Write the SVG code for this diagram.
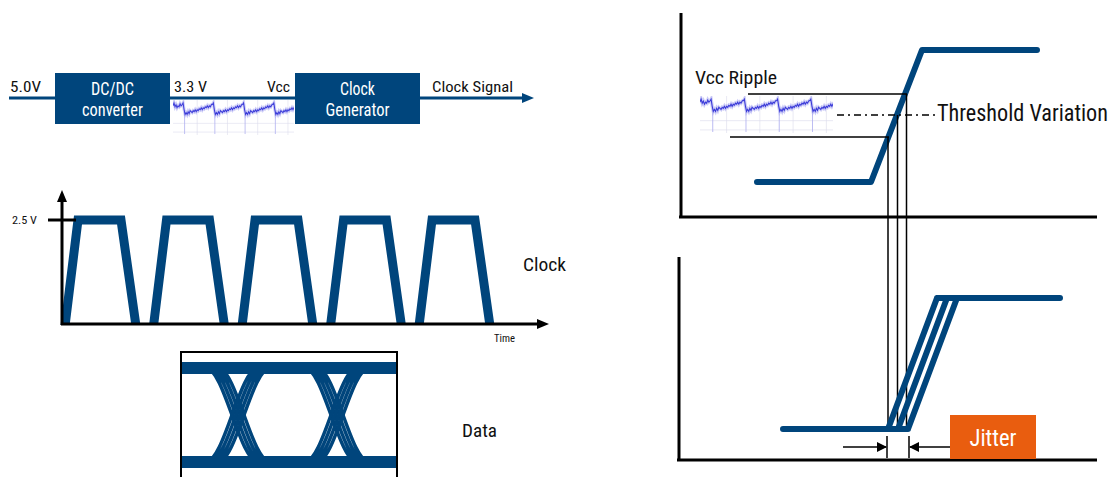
<svg xmlns="http://www.w3.org/2000/svg" xmlns:xlink="http://www.w3.org/1999/xlink" width="1118" height="477" viewBox="0 0 1118 477">
<style>
.box{fill:#00457c}
.t{font-family:"Liberation Sans Narrow","Roboto Condensed","Liberation Sans",Arial,sans-serif;fill:#111}
.w{fill:#fff}
.wire{stroke:#00457c;stroke-width:3;fill:none}
.axis{stroke:#000;stroke-width:3;fill:none}
.thin{stroke:#000;stroke-width:1.5;fill:none}
.sig{stroke:#00457c;stroke-width:6;fill:none;stroke-linecap:round;stroke-linejoin:round}
.pulse{stroke:#00457c;stroke-width:9;fill:none;stroke-linejoin:miter}
.eye{stroke:#00457c;stroke-width:3.5;fill:none}
.band{stroke:#00457c;stroke-width:12;fill:none}
.rd{stroke:#3a3ad8;stroke-width:1;fill:none}
.rl{stroke:#a4a4f2;stroke-width:3;fill:none;opacity:0.55}
.rs{stroke:#b0b0f0;stroke-width:0.8;fill:none}
.grid{stroke:#dcdcec;stroke-width:0.6}
</style>
<defs>
<marker id="aBlue" markerUnits="userSpaceOnUse" markerWidth="12" markerHeight="10" refX="2" refY="5" orient="auto"><path d="M0,0 L12,5 L0,10 z" fill="#00457c"/></marker>
<marker id="aBlack" markerUnits="userSpaceOnUse" markerWidth="12" markerHeight="10" refX="2" refY="5" orient="auto"><path d="M0,0 L12,5 L0,10 z" fill="#000"/></marker>
<marker id="aSmall" markerUnits="userSpaceOnUse" markerWidth="10" markerHeight="10" refX="9" refY="5" orient="auto"><path d="M0,0 L10,5 L0,10 z" fill="#000"/></marker>
<path id="rp" d="M-1,5 L0,3 L1,10 L2,15 L3,13 L4,15 L5,12 L6,14 L7,11 L8,12 L9,13 L10,11 L11,12 L12,10 L13,12 L14,10 L15,11 L16,9 L17,10 L18,8 L19,10 L20,8 L21,9 L22,7 L23,8 L24,6 L25,8 L26,6 L27,7 L28,5 L29,4"/>
<symbol id="ripple" viewBox="0 0 120 36" preserveAspectRatio="none">
<g class="grid"><line x1="24" y1="0" x2="24" y2="36"/><line x1="54" y1="0" x2="54" y2="36"/><line x1="84" y1="0" x2="84" y2="36"/><line x1="114" y1="0" x2="114" y2="36"/><line x1="0" y1="24" x2="120" y2="24"/><line x1="0" y1="33" x2="120" y2="33"/></g>
<g class="rl"><path d="M0,6 L1,3 L2,7 L3,5 L4,8 L5,6 L6,7 L7,4 L8,6 L9,5"/><use xlink:href="#rp" x="10"/><use xlink:href="#rp" x="40"/><use xlink:href="#rp" x="70"/><use xlink:href="#rp" x="100"/></g>
<path class="rs" d="M11.5,10 L11.5,35 M41.5,10 L41.5,35 M71.5,10 L71.5,35 M101.5,10 L101.5,35"/>
<g class="rd"><path d="M0,6 L1,3 L2,7 L3,5 L4,8 L5,6 L6,7 L7,4 L8,6 L9,5"/><use xlink:href="#rp" x="10"/><use xlink:href="#rp" x="40"/><use xlink:href="#rp" x="70"/><use xlink:href="#rp" x="100"/></g>
</symbol>
<g id="xcross">
<path class="eye" d="M206,368 C224,368 240,462 258,462 M210,368 C228,368 244,462 262,462 M214,368 C232,368 248,462 266,462 M218,368 C236,368 252,462 270,462"/>
<path class="eye" d="M206,462 C224,462 240,368 258,368 M210,462 C228,462 244,368 262,368 M214,462 C232,462 248,368 266,368 M218,462 C236,462 252,368 270,368"/>
</g>
<clipPath id="pclip"><rect x="55" y="200" width="460" height="125"/></clipPath>
</defs>
<rect width="1118" height="477" fill="#fff"/>

<g id="connectors">
<line class="wire" x1="9" y1="98" x2="56" y2="98"/>
<line class="wire" x1="170" y1="98" x2="295" y2="98"/>
<line class="wire" x1="420" y1="98" x2="524" y2="98" marker-end="url(#aBlue)"/>
</g>
<text class="t" x="10" y="92" font-size="15" textLength="31" lengthAdjust="spacingAndGlyphs">5.0V</text>
<text class="t" x="174" y="92" font-size="15" textLength="33" lengthAdjust="spacingAndGlyphs">3.3 V</text>
<text class="t" x="267" y="92" font-size="15" textLength="23" lengthAdjust="spacingAndGlyphs">Vcc</text>
<text class="t" x="432" y="92" font-size="15" textLength="81" lengthAdjust="spacingAndGlyphs">Clock Signal</text>
<use xlink:href="#ripple" x="173" y="100" width="121" height="35"/>

<g id="dcdc">
<rect class="box" x="55" y="73" width="115" height="51"/>
<text class="t w" x="112.5" y="95" font-size="17.5" text-anchor="middle" textLength="43" lengthAdjust="spacingAndGlyphs">DC/DC</text>
<text class="t w" x="112.5" y="116" font-size="17.5" text-anchor="middle" textLength="61" lengthAdjust="spacingAndGlyphs">converter</text>
</g>
<g id="clockgen">
<rect class="box" x="295" y="73" width="125" height="51"/>
<text class="t w" x="357.5" y="95" font-size="17.5" text-anchor="middle" textLength="35" lengthAdjust="spacingAndGlyphs">Clock</text>
<text class="t w" x="357.5" y="116" font-size="17.5" text-anchor="middle" textLength="64" lengthAdjust="spacingAndGlyphs">Generator</text>
</g>

<g id="clockwave">
<path class="pulse" clip-path="url(#pclip)" d="M65,326 L78,220 L121,220 L136,326 M153.5,326 L166.5,220 L209.5,220 L224.5,326 M242,326 L255,220 L298,220 L313,326 M330.5,326 L343.5,220 L386.5,220 L401.5,326 M419,326 L432,220 L475,220 L490,326"/>
<line class="axis" x1="62" y1="325" x2="62" y2="200" marker-end="url(#aBlack)"/>
<line class="axis" x1="61" y1="324" x2="539" y2="324" marker-end="url(#aBlack)"/>
<line class="axis" x1="48" y1="220" x2="76" y2="220" stroke-width="2"/>
<text class="t" x="12" y="224" font-size="10" textLength="25" lengthAdjust="spacingAndGlyphs">2.5 V</text>
<text class="t" x="494" y="342" font-size="10" textLength="21" lengthAdjust="spacingAndGlyphs">Time</text>
<text class="t" x="523" y="271" font-size="19" textLength="43" lengthAdjust="spacingAndGlyphs">Clock</text>
</g>

<g id="eye">
<use xlink:href="#xcross"/>
<use xlink:href="#xcross" x="99"/>
<line class="band" x1="181" y1="368" x2="397" y2="368"/>
<line class="band" x1="181" y1="462" x2="397" y2="462"/>
<path d="M181,490 L181,352 L397,352 L397,490" fill="none" stroke="#000" stroke-width="2"/>
<text class="t" x="462" y="437" font-size="19" textLength="35" lengthAdjust="spacingAndGlyphs">Data</text>
</g>

<g id="threshold">
<line class="axis" x1="681" y1="13" x2="681" y2="218"/>
<line class="axis" x1="679" y1="217" x2="1097" y2="217" stroke-width="4"/>
<path class="sig" d="M757,182 L871,182 L922,50 L1037,50"/>
<line class="thin" x1="748" y1="94" x2="907" y2="94"/>
<line class="thin" x1="730" y1="137" x2="889" y2="137"/>
<line class="thin" x1="837" y1="115" x2="935" y2="115" stroke-dasharray="7 4 2 4"/>
<line class="thin" x1="888" y1="137" x2="888" y2="429"/>
<line class="thin" x1="897.5" y1="115" x2="897.5" y2="429"/>
<line class="thin" x1="906.5" y1="94" x2="906.5" y2="429"/>
<use xlink:href="#ripple" x="700" y="96" width="133" height="37"/>
<text class="t" x="695" y="84" font-size="19" textLength="82" lengthAdjust="spacingAndGlyphs">Vcc Ripple</text>
<text class="t" x="937" y="121" font-size="23" textLength="171" lengthAdjust="spacingAndGlyphs">Threshold Variation</text>
</g>

<g id="jitterplot">
<line class="axis" x1="679" y1="257" x2="679" y2="461"/>
<line class="axis" x1="677" y1="460" x2="1097" y2="460" stroke-width="4"/>
<path class="sig" stroke-width="5" d="M783,429 L908,429 M888,429 L937,298 M898,429 L947,298 M908,429 L957,298 M937,298 L1060,298"/>
<line class="thin" x1="887" y1="436" x2="887" y2="458"/>
<line class="thin" x1="909" y1="436" x2="909" y2="458"/>
<line class="thin" x1="843" y1="447" x2="886" y2="447" marker-end="url(#aSmall)"/>
<line class="thin" x1="950" y1="447" x2="910" y2="447" marker-end="url(#aSmall)"/>
</g>
<g id="jitter">
<rect x="950" y="415" width="86" height="44" fill="#e95d0f"/>
<text class="t w" x="993" y="446" font-size="23" text-anchor="middle" textLength="47" lengthAdjust="spacingAndGlyphs">Jitter</text>
</g>
</svg>
